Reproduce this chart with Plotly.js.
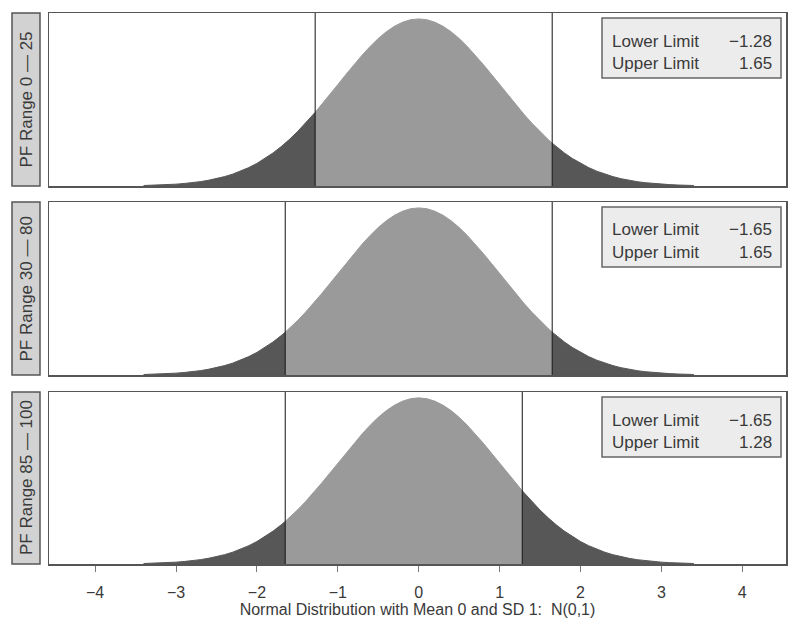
<!DOCTYPE html>
<html>
<head>
<meta charset="utf-8">
<script src="https://cdn.plot.ly/plotly-3.0.1.min.js"></script>
<style>html,body{margin:0;padding:0;background:#fff;}#chart{width:800px;height:633px;}</style>
</head>
<body>
<div id="chart"></div>
<script>
// Density curve of N(0,1) (x, height)
var xVals = [-3.4,-3.3,-3.2,-3.1,-3.0,-2.9,-2.8,-2.7,-2.6,-2.5,-2.4,-2.3,-2.2,-2.1,-2.0,-1.9,-1.8,-1.7,-1.65,-1.6,-1.5,-1.4,-1.3,-1.28,-1.2,-1.1,-1.0,-0.9,-0.8,-0.7,-0.6,-0.5,-0.4,-0.3,-0.2,-0.1,0.0,0.1,0.2,0.3,0.4,0.5,0.6,0.7,0.8,0.9,1.0,1.1,1.2,1.28,1.3,1.4,1.5,1.6,1.65,1.7,1.8,1.9,2.0,2.1,2.2,2.3,2.4,2.5,2.6,2.7,2.8,2.9,3.0,3.1,3.2,3.3,3.4];
var density = [0.0012,0.0017,0.0024,0.0033,0.0044,0.0060,0.0079,0.0104,0.0136,0.0175,0.0224,0.0283,0.0355,0.0440,0.0540,0.0656,0.0790,0.0940,0.1023,0.1109,0.1295,0.1497,0.1714,0.1758,0.1942,0.2179,0.2420,0.2661,0.2897,0.3123,0.3332,0.3521,0.3683,0.3814,0.3910,0.3970,0.3989,0.3970,0.3910,0.3814,0.3683,0.3521,0.3332,0.3123,0.2897,0.2661,0.2420,0.2179,0.1942,0.1758,0.1714,0.1497,0.1295,0.1109,0.1023,0.0940,0.0790,0.0656,0.0540,0.0440,0.0355,0.0283,0.0224,0.0175,0.0136,0.0104,0.0079,0.0060,0.0044,0.0033,0.0024,0.0017,0.0012];

var panelLabels = ["PF Range 0 \u2014 25", "PF Range 30 \u2014 80", "PF Range 85 \u2014 100"];
var lowerLimits = [-1.28, -1.65, -1.65];
var upperLimits = [1.65, 1.65, 1.28];
var xTicks = [-4,-3,-2,-1,0,1,2,3,4];
var xTitle = "Normal Distribution with Mean 0 and SD 1:  N(0,1)";

var FONT = "Liberation Sans, Arial, sans-serif";
var TXT = "#3a3a3a";
var light = "#9a9a9a", dark = "#575757";
var panelTops = [13, 202, 392], panelBots = [186, 375, 564];
function px(x){ return (x - 49) / 737; }
function py(y){ return (564 - y) / 551; }
function fmt(v){ return (v < 0 ? "\u2212" : "") + Math.abs(v).toFixed(2); }

var traces = [], shapes = [], annotations = [];
var layout = {
  width: 800, height: 633,
  margin: {l: 49, r: 14, t: 13, b: 69},
  paper_bgcolor: "#fff", plot_bgcolor: "#fff",
  showlegend: false,
  font: {family: FONT, size: 16, color: TXT}
};

function buildPanel(p) {
  var sfx = p === 0 ? "" : String(p + 1);
  var xa = "x" + sfx, ya = "y" + sfx;
  var lo = lowerLimits[p], hi = upperLimits[p];
  var segs = [
    {f: function(x){ return x <= lo; }, c: dark},
    {f: function(x){ return x >= lo && x <= hi; }, c: light},
    {f: function(x){ return x >= hi; }, c: dark}
  ];
  segs.forEach(function(s){
    var xs = [], ys = [];
    for (var i = 0; i < xVals.length; i++) {
      if (s.f(xVals[i])) { xs.push(xVals[i]); ys.push(density[i]); }
    }
    traces.push({x: xs, y: ys, type: "scatter", mode: "lines", fill: "tozeroy",
      fillcolor: s.c, line: {color: s.c, width: 1}, xaxis: xa, yaxis: ya, hoverinfo: "skip"});
  });
  [lo, hi].forEach(function(v){
    shapes.push({type: "line", xref: xa, yref: ya + " domain", x0: v, x1: v, y0: 0, y1: 1,
      line: {color: "#111", width: 1}});
  });
  var pTop = panelTops[p], pBot = panelBots[p];
  var isBottom = p === 2;
  layout["xaxis" + sfx] = {
    range: [-4.57, 4.54], anchor: ya, showgrid: false, zeroline: false,
    showline: true, mirror: true, linecolor: "#555", linewidth: 1.5,
    tickvals: xTicks, ticks: isBottom ? "outside" : "", ticklen: 6, tickcolor: "#777",
    ticklabelstandoff: 7,
    showticklabels: isBottom, tickfont: {family: FONT, size: 16, color: TXT},
    title: isBottom ? {text: xTitle, font: {family: FONT, size: 16, color: TXT}, standoff: 0} : {text: ""}
  };
  layout["yaxis" + sfx] = {
    domain: [py(pBot), py(pTop)], range: [0, 0.413], anchor: xa,
    showgrid: false, zeroline: false, showline: true, mirror: true,
    linecolor: "#555", linewidth: 1.5, showticklabels: false, ticks: ""
  };
  shapes.push({type: "rect", xref: "paper", yref: "paper", x0: px(12), x1: px(40),
    y0: py(pBot), y1: py(pTop), fillcolor: "#d2d2d2", line: {color: "#555", width: 1.5}, layer: "above"});
  annotations.push({xref: "paper", yref: "paper", x: px(26), y: py((pTop + pBot) / 2),
    text: panelLabels[p], textangle: -90, showarrow: false,
    font: {family: FONT, size: 17, color: TXT}, xanchor: "center", yanchor: "middle"});
  shapes.push({type: "rect", xref: "paper", yref: "paper", x0: px(602), x1: px(781),
    y0: py(pTop + 65), y1: py(pTop + 5), fillcolor: "#ececec", line: {color: "#666", width: 1.5}, layer: "above"});
  var rows = [["Lower Limit", lo], ["Upper Limit", hi]];
  rows.forEach(function(r, k){
    var yc = py(pTop + 28 + k * 22);
    annotations.push({xref: "paper", yref: "paper", x: px(610), y: yc, text: r[0], showarrow: false,
      xanchor: "left", yanchor: "middle", font: {family: FONT, size: 17, color: TXT}});
    annotations.push({xref: "paper", yref: "paper", x: px(774), y: yc, text: fmt(r[1]), showarrow: false,
      xanchor: "right", yanchor: "middle", font: {family: FONT, size: 17, color: TXT}});
  });
}
for (var p = 0; p < 3; p++) buildPanel(p);
layout.shapes = shapes;
layout.annotations = annotations;
Plotly.newPlot("chart", traces, layout, {displayModeBar: false, staticPlot: true});
</script>
</body>
</html>
